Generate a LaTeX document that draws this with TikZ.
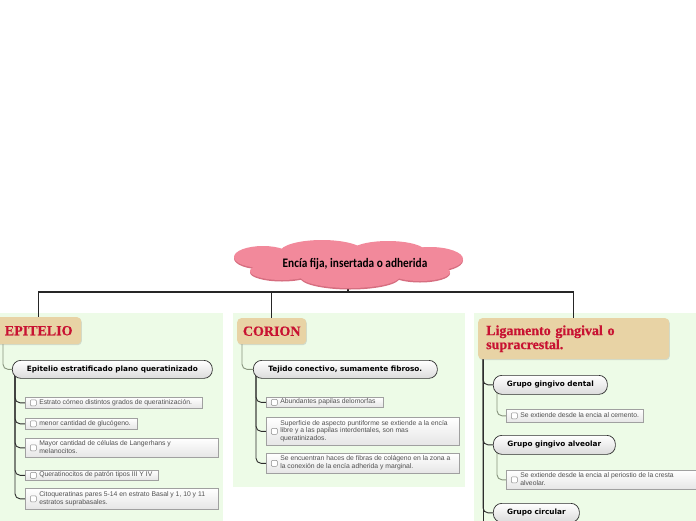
\documentclass[tikz,border=0pt]{standalone}
\usepackage{fontspec}
\setmainfont{Liberation Serif}
\newfontfamily\titlefont[BoldFeatures={FakeBold=0.6}]{Liberation Serif}
\newfontfamily\cloudfont{Carlito}
\newfontfamily\pillfont{DejaVu Sans}
\newfontfamily\leaffont{Liberation Sans}
\usetikzlibrary{shadows}
\definecolor{cloudpink}{RGB}{242,137,155}
\definecolor{cloudrim}{RGB}{214,110,128}
\definecolor{panelgreen}{RGB}{237,251,231}
\definecolor{topictan}{RGB}{232,211,165}
\definecolor{titlered}{RGB}{200,18,50}
\definecolor{olivegray}{RGB}{135,148,125}
\definecolor{darkline}{RGB}{45,45,45}
\definecolor{leafborder}{RGB}{160,160,160}
\definecolor{leaftext}{RGB}{80,80,80}
\newcommand{\leaftxt}[2]{\hspace*{12pt}\makebox[#1pt][l]{\begin{tabular}{@{}l@{}}#2\end{tabular}}}
\pgfdeclarelayer{panels}
\pgfdeclarelayer{links}
\pgfsetlayers{panels,links,main}
\tikzset{
  topic/.style={fill=topictan, rounded corners=4pt, draw=none,
    drop shadow={opacity=0.25, shadow xshift=0.6pt, shadow yshift=-1pt},
    font=\titlefont\bfseries\fontsize{14}{14}\selectfont, text=titlered, anchor=north west, inner sep=0pt},
  pill/.style={draw=darkline, line width=0.7pt, rounded corners=8.5pt, top color=white,
    bottom color=black!14, font=\pillfont\bfseries\fontsize{7.3}{8}\selectfont,
    anchor=north west, inner sep=0pt},
  leaf/.style={draw=leafborder, line width=0.6pt, top color=white, bottom color=black!10,
    font=\leaffont\fontsize{6.8}{7.8}\selectfont, text=leaftext, anchor=north west,
    inner xsep=2pt, inner ysep=0.5pt,
    path picture={\draw[black!45, line width=0.5pt, rounded corners=1pt, fill=white]
      ([xshift=5pt,yshift=-3pt]path picture bounding box.west) rectangle ++(6pt,6pt);}},
  trunk/.style={draw=darkline, line width=0.9pt, rounded corners=5pt},
  twig/.style={draw=olivegray, line width=0.9pt, rounded corners=5pt},
  mainline/.style={draw=black!85, line width=1.2pt},
  panel/.style={fill=panelgreen},
  cloudpart/.style={fill=cloudpink},
  cloudshade/.style={fill=cloudrim},
}
\begin{document}
\begin{tikzpicture}[x=1pt,y=-1pt]
\useasboundingbox (0,0) rectangle (696,520);
% cloud
\foreach \cx/\cy/\rx/\ry in {348/262/95/16, 263/257/29/11, 322/252/42/12, 388/252/38/11,
  430/259/33/12, 282/271/32/9, 350/276/50/12, 420/272/30/9}{
  \fill[cloudshade] (\cx,\cy+1.5) ellipse [x radius=\rx, y radius=\ry];
}
\foreach \cx/\cy/\rx/\ry in {348/262/95/16, 263/257/29/11, 322/252/42/12, 388/252/38/11,
  430/259/33/12, 282/271/32/9, 350/276/50/12, 420/272/30/9}{
  \fill[cloudpart] (\cx,\cy) ellipse [x radius=\rx, y radius=\ry];
}
\node[font=\cloudfont\bfseries\fontsize{13}{15}\selectfont, inner sep=0pt] (root) at (355,264)
  {\scalebox{0.87}[1]{Encía fija, insertada o adherida}};
\coordinate (cloudbot) at (348,287);
\coordinate (bar) at (348,292);

% topics
\node[topic, minimum width=85, minimum height=27] (epi) at (-4,317) {EPITELIO};
\node[topic, minimum width=69, minimum height=26] (cor) at (237,318) {CORION};
\node[topic, minimum width=191, minimum height=41, text width=175, inner xsep=8pt, align=left] (lig) at (478,318)
  {Ligamento gingival o\\supracrestal.};

% subtopics
\node[pill, minimum width=200, minimum height=18] (p1) at (12,360) {Epitelio estratificado plano queratinizado};
\node[pill, minimum width=184, minimum height=18] (p2) at (253,360) {Tejido conectivo, sumamente fibroso.};
\node[pill, minimum width=114, minimum height=19] (g1) at (493,375) {Grupo gingivo dental};
\node[pill, minimum width=122, minimum height=19] (g2) at (493,435) {Grupo gingivo alveolar};
\node[pill, minimum width=86, minimum height=19] (g3) at (493,503) {Grupo circular};

% leaves left
\node[leaf, minimum width=177, minimum height=11] (e1) at (25,397) {\leaftxt{161}{Estrato córneo distintos grados de queratinización.}};
\node[leaf, minimum width=112, minimum height=11] (e2) at (25,418) {\leaftxt{96}{menor cantidad de glucógeno.}};
\node[leaf, minimum width=193, minimum height=19] (e3) at (25,438) {\leaftxt{177}{Mayor cantidad de células de Langerhans y\\melanocitos.}};
\node[leaf, minimum width=133, minimum height=10] (e4) at (25,470) {\leaftxt{117}{Queratinocitos de patrón tipos III Y IV}};
\node[leaf, minimum width=193, minimum height=21] (e5) at (25,488) {\leaftxt{177}{Citoqueratinas pares 5-14 en estrato Basal y 1, 10 y 11\\estratos suprabasales.}};
% leaves middle
\node[leaf, minimum width=117, minimum height=10] (c1) at (266,397) {\leaftxt{101}{Abundantes papilas delomorfas}};
\node[leaf, minimum width=193, minimum height=28] (c2) at (266,417) {\leaftxt{177}{Superficie de aspecto puntiforme se extiende a la encía\\libre y a las papilas interdentales, son mas\\queratinizados.}};
\node[leaf, minimum width=193, minimum height=20] (c3) at (266,453) {\leaftxt{177}{Se encuentran haces de fibras de colágeno en la zona a\\la conexión de la encía adherida y marginal.}};
% leaves right
\node[leaf, minimum width=137, minimum height=13] (r1) at (506,409) {\leaftxt{121}{Se extiende desde la encia al cemento.}};
\node[leaf, minimum width=196, minimum height=19] (r2) at (506,470) {\leaftxt{180}{Se extiende desde la encia al periostio de la cresta\\alveolar.}};

\coordinate (ligend) at (483,521);

\begin{pgfonlayer}{panels}
  \fill[panel] (0,313) rectangle (223,521);
  \fill[panel] (233,313) rectangle (465,487);
  \fill[panel] (474,313) rectangle (697,521);
\end{pgfonlayer}

\begin{pgfonlayer}{links}
  \draw[mainline] (cloudbot) -- (bar);
  \draw[mainline] (epi.north) |- (bar) -| (lig.north);
  \draw[mainline] (cor.north) -- (cor.north |- bar);
  % left
  \draw[twig] ([xshift=7pt]epi.west) |- (p1.west);
  \foreach \n in {e1,e2,e3,e4,e5}{\draw[trunk] ([xshift=3pt]p1.west) |- (\n.west);}
  % middle
  \draw[twig] ([xshift=5pt]cor.west) |- (p2.west);
  \foreach \n in {c1,c2,c3}{\draw[trunk] ([xshift=3pt]p2.west) |- (\n.west);}
  % right
  \draw[trunk] ([xshift=5pt]lig.west) -- (ligend);
  \foreach \n in {g1,g2,g3}{\draw[trunk] ([xshift=5pt]lig.west) |- (\n.west);}
  \draw[twig] ([xshift=4pt]g1.west) |- (r1.west);
  \draw[twig] ([xshift=4pt]g2.west) |- (r2.west);
\end{pgfonlayer}
\end{tikzpicture}
\end{document}
